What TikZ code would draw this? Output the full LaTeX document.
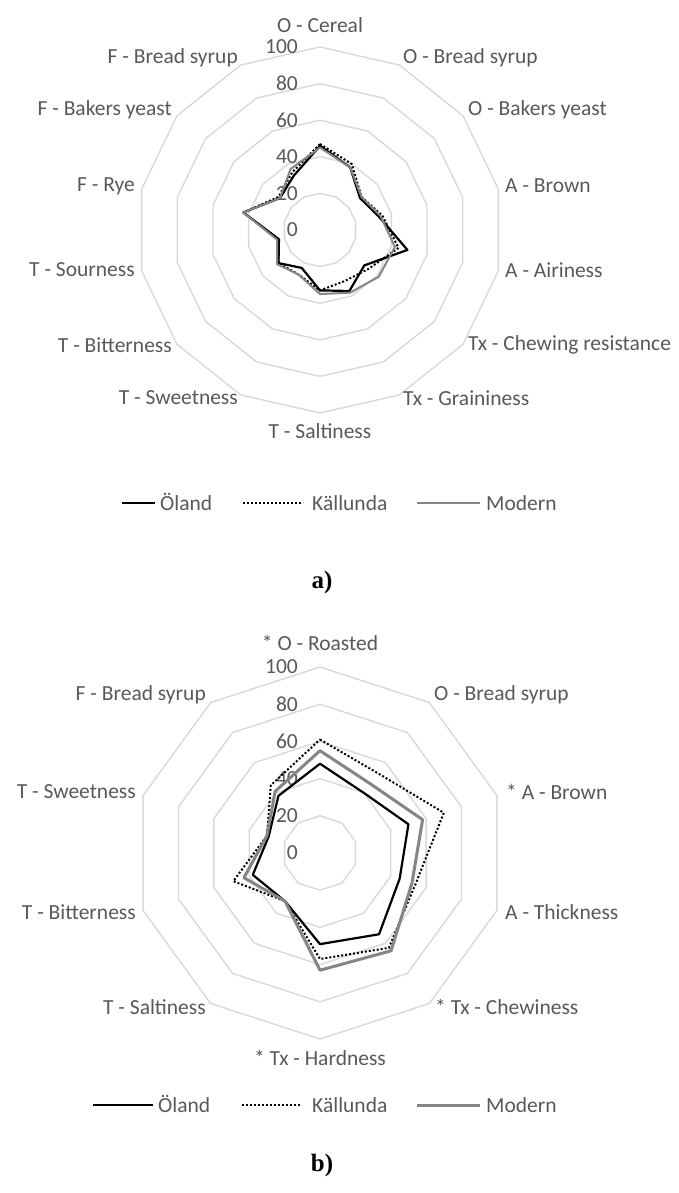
\documentclass[tikz,border=0pt]{standalone}
\usepackage{fontspec}
\setmainfont{Carlito}
\newfontfamily\capfont{Liberation Serif}
\definecolor{gridgray}{HTML}{D9D9D9}
\definecolor{textgray}{HTML}{595959}
\definecolor{moderngray}{HTML}{858585}

\begin{document}
\begin{tikzpicture}[x=1pt, y=1pt,
  grid/.style={draw=gridgray, line width=1.4pt},
  lab/.style={text=textgray, font=\fontsize{21.5}{24}\selectfont, inner sep=0pt},
  leg/.style={lab, anchor=west, text height=15pt, text depth=0pt},
  figcap/.style={font=\capfont\bfseries\fontsize{25}{28}\selectfont, inner sep=0pt},
  oland/.style={black, line width=2.2pt, line join=round},
  kallunda/.style={black, line width=2pt, dash pattern=on 2pt off 2pt},
  modern/.style={moderngray, line width=2pt, line join=round}]

\useasboundingbox (0,0) rectangle (678,-1193);
\fill[white] (0,0) rectangle (678,-1193);

% a) 14 attributes
\begin{scope}[shift={(320,-230)}]
\foreach \r in {1,...,5}
  \draw[grid] (90:\r*36.6) \foreach \k in {1,...,13} { -- (90-\k*360/14:\r*36.6)} -- cycle;
\foreach \t [count=\i from 0] in {0,20,...,100}
  \node[lab, anchor=east] (ta\t) at (-22,\i*36.6) {\t};
\node[lab] (a0) at (0,205) {O - Cereal};
\node[lab, anchor=west] (a1) at (83,172) {O - Bread syrup};
\node[lab, anchor=west] (a2) at (148,120) {O - Bakers yeast};
\node[lab, anchor=west] (a3) at (185,44) {A - Brown};
\node[lab, anchor=west] (a4) at (185,-40) {A - Airiness};
\node[lab, anchor=west] (a5) at (148,-115) {Tx - Chewing resistance};
\node[lab, anchor=west] (a6) at (83,-168) {Tx - Graininess};
\node[lab] (a7) at (0,-201) {T - Saltiness};
\node[lab, anchor=east] (a8) at (-82,-168) {T - Sweetness};
\node[lab, anchor=east] (a9) at (-148,-115) {T - Bitterness};
\node[lab, anchor=east] (a10) at (-185,-40) {T - Sourness};
\node[lab, anchor=east] (a11) at (-185,44) {F - Rye};
\node[lab, anchor=east] (a12) at (-148,120) {F - Bakers yeast};
\node[lab, anchor=east] (a13) at (-82,172) {F - Bread syrup};
\draw[oland] (90:46*1.83) \foreach \v [count=\k] in {38,28,33,49,31,37,33,23,29,23,43,28,33} { -- (90-\k*360/14:\v*1.83)} -- cycle;
\draw[kallunda] (90:47*1.83) \foreach \v [count=\k] in {40,29,35,44,34,31,33,27,29,23,43,29,35} { -- (90-\k*360/14:\v*1.83)} -- cycle;
\draw[modern] (90:45*1.83) \foreach \v [count=\k] in {38,29,34,42,41,38,35,27,30,24,43,28,37} { -- (90-\k*360/14:\v*1.83)} -- cycle;
\end{scope}

% legend a
\draw[oland] (122,-503) -- (155,-503);
\node[leg] (la1) at (160,-503) {Öland};
\draw[kallunda] (243,-503) -- (303,-503);
\node[leg] (la2) at (312,-503) {Källunda};
\draw[modern] (417,-503) -- (480,-503);
\node[leg] (la3) at (486,-503) {Modern};
\node[figcap] (capa) at (322,-582) {a)};

% b) 10 attributes
\begin{scope}[shift={(320,-853)}]
\foreach \r in {1,...,5}
  \draw[grid] (90:\r*37.2) \foreach \k in {1,...,9} { -- (90-\k*36:\r*37.2)} -- cycle;
\foreach \t [count=\i from 0] in {0,20,...,100}
  \node[lab, anchor=east] (tb\t) at (-22,\i*37.2) {\t};
\node[lab] (b0) at (0,210) {* O - Roasted};
\node[lab, anchor=west] (b1) at (114,158) {O - Bread syrup};
\node[lab, anchor=west] (b2) at (186,61) {* A - Brown};
\node[lab, anchor=west] (b3) at (185,-59) {A - Thickness};
\node[lab, anchor=west] (b4) at (115,-154) {* Tx - Chewiness};
\node[lab] (b5) at (0,-205) {* Tx - Hardness};
\node[lab, anchor=east] (b6) at (-114,-154) {T - Saltiness};
\node[lab, anchor=east] (b7) at (-184,-59) {T - Bitterness};
\node[lab, anchor=east] (b8) at (-184,61) {T - Sweetness};
\node[lab, anchor=east] (b9) at (-114,158) {F - Bread syrup};
\draw[oland] (90:48*1.86) \foreach \v [count=\k] in {40,50,45,54,49,32,38,29,38} { -- (90-\k*36:\v*1.86)} -- cycle;
\draw[kallunda] (90:61*1.86) \foreach \v [count=\k] in {53,70,54,63,57,32,49,30,45} { -- (90-\k*36:\v*1.86)} -- cycle;
\draw[modern, line width=3pt] (90:55*1.86) \foreach \v [count=\k] in {46,58,52,65,63,32,43,30,41} { -- (90-\k*36:\v*1.86)} -- cycle;
\end{scope}

% legend b
\draw[oland] (93,-1105) -- (153,-1105);
\node[leg] (lb1) at (158,-1105) {Öland};
\draw[kallunda] (242,-1105) -- (300,-1105);
\node[leg] (lb2) at (312,-1105) {Källunda};
\draw[modern, line width=3pt] (417,-1105) -- (480,-1105);
\node[leg] (lb3) at (486,-1105) {Modern};
\node[figcap] (capb) at (322,-1165) {b)};
\end{tikzpicture}
\end{document}
